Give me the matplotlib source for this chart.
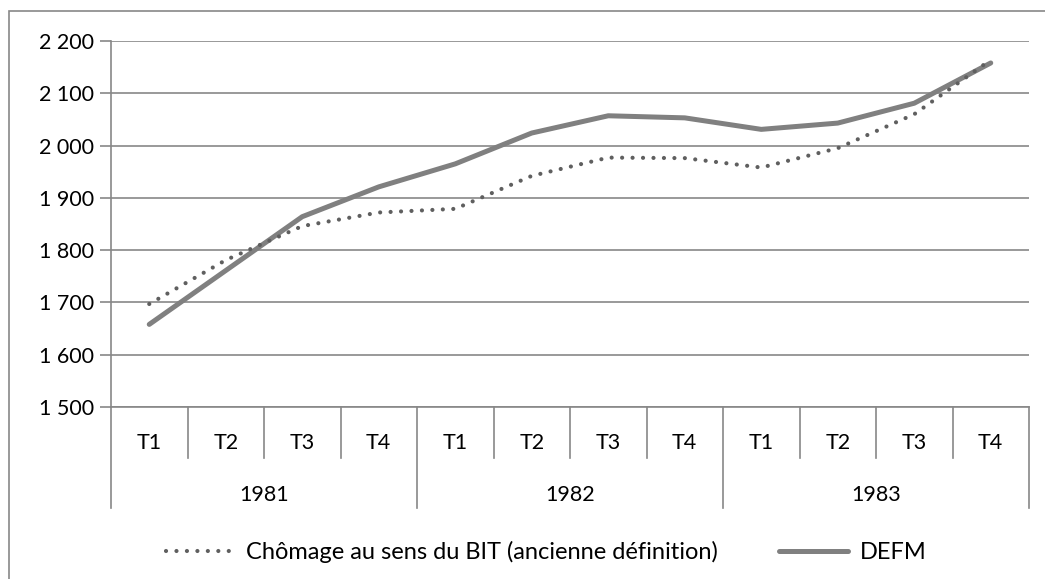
import numpy as np
import matplotlib
matplotlib.use('Agg')
import matplotlib.pyplot as plt
from matplotlib.patches import Rectangle
from matplotlib.ticker import FuncFormatter

plt.rcParams['font.family'] = ['Lato', 'DejaVu Sans']

# ==================== données ====================
years = ['1981', '1982', '1983']
quarters = ['T1', 'T2', 'T3', 'T4']
bit = [1697, 1781, 1846, 1872, 1879, 1942, 1977, 1976, 1958, 1995, 2060, 2164]
defm = [1658, 1761, 1864, 1921, 1965, 2024, 2057, 2053, 2031, 2043, 2081, 2158]
label_bit = 'Chômage au sens du BIT (ancienne définition)'
label_defm = 'DEFM'

GRID = '#878787'
LINE = '#808080'
DOTS = '#5f5f5f'
FS = 15.5

fig = plt.figure(figsize=(10.45, 5.79), dpi=100)
fig.patches.append(Rectangle((9 / 1045, -0.05), 1.2, 1 - 11 / 579 + 0.05,
                             transform=fig.transFigure, fill=False,
                             edgecolor=GRID, linewidth=1.2))

ax = fig.add_axes([111 / 1045, (579 - 407) / 579, (1029 - 111) / 1045, 366 / 579])
x = np.arange(len(bit))

ax.plot(x, bit, color=DOTS, linewidth=3.0, linestyle=(0, (0.01, 2.5)),
        dash_capstyle='round', zorder=4, label=label_bit)
ax.plot(x, defm, color=LINE, linewidth=3.6, solid_capstyle='round',
        solid_joinstyle='round', zorder=3, label=label_defm)

ax.set_xlim(-0.5, 11.5)
ax.set_ylim(1500, 2200)
ax.set_yticks(range(1500, 2201, 100))
ax.yaxis.set_major_formatter(FuncFormatter(lambda v, p: f'{int(v):,}'.replace(',', ' ')))
ax.tick_params(axis='y', length=8, color=GRID, width=1.2, labelsize=FS, pad=4)
ax.set_xticks([])
ax.grid(axis='y', color=GRID, linewidth=1.2)
for s in ['top', 'right']:
    ax.spines[s].set_visible(False)
for s in ['left', 'bottom']:
    ax.spines[s].set_color(GRID)
    ax.spines[s].set_linewidth(1.2)

# axe des catégories à deux niveaux
tr = ax.get_xaxis_transform()
for k in range(len(bit) + 1):
    bottom = -0.276 if k % 4 == 0 else -0.139
    ax.plot([k - 0.5, k - 0.5], [0, bottom], color=GRID, linewidth=1.2,
            transform=tr, clip_on=False)
for i, q in enumerate(quarters * len(years)):
    ax.text(i, -0.098, q, transform=tr, ha='center', va='center', fontsize=FS)
for j, yr in enumerate(years):
    ax.text(j * 4 + 1.5, -0.240, yr, transform=tr, ha='center', va='center', fontsize=FS)

h, l = ax.get_legend_handles_labels()
fig.legend(h, l, loc='center', ncol=2,
           bbox_to_anchor=(0.5225, (579 - 552) / 579), frameon=False,
           fontsize=17, handlelength=2.9, handletextpad=0.5, columnspacing=2.6)

plt.savefig('out.png', dpi=100)
